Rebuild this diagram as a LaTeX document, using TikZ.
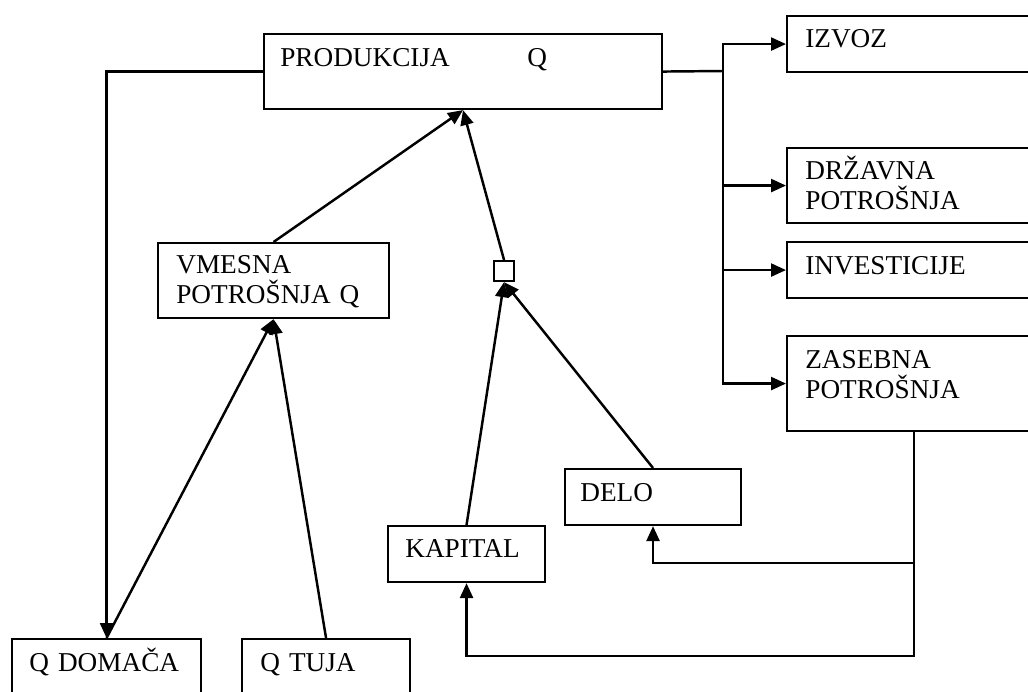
\documentclass[tikz,border=0pt]{standalone}
\usepackage{fontspec}
\setmainfont{Liberation Serif}
\usetikzlibrary{positioning,arrows.meta}

\begin{document}
\begin{tikzpicture}[x=0.02cm, y=-0.02cm,
        box/.style={draw, line width=1.2pt, anchor=north west, inner sep=0pt},
        lbl/.style={anchor=base west, inner sep=0pt, align=left, text width=5cm,
            font=\fontsize{15.5}{17.5}\selectfont},
        arr/.style={line width=1.4pt, -{Triangle[length=3mm, width=2.6mm]}},
        ln/.style={line width=1.4pt}]
        \useasboundingbox (0,0) rectangle (1028,691);
        \clip (0,0) rectangle (1028,691);
        \node[box, minimum width=7.96cm, minimum height=1.5cm] (prod) at (263,33) {};
        \node[box, minimum width=5.08cm, minimum height=1.12cm] (izvoz) at (786,15) {};
        \node[box, minimum width=5.08cm, minimum height=1.5cm] (drzavna) at (786,147) {};
        \node[box, minimum width=5.08cm, minimum height=1.12cm] (invest) at (786,241) {};
        \node[box, minimum width=5.08cm, minimum height=1.9cm] (zasebna) at (786,335) {};
        \node[box, minimum width=4.62cm, minimum height=1.5cm] (vmesna) at (157,242) {};
        \node[box, minimum width=0.4cm, minimum height=0.4cm] (kvad) at (493,260) {};
        \node[box, minimum width=3.52cm, minimum height=1.12cm] (delo) at (564,468) {};
        \node[box, minimum width=3.14cm, minimum height=1.12cm] (kapital) at (387,525) {};
        \node[box, minimum width=3.78cm, minimum height=1.3cm] (domaca) at (11,638) {};
        \node[box, minimum width=3.36cm, minimum height=1.3cm] (tuja) at (241,638) {};
        \node[lbl] (prodtxt) at (280,66) {\makebox[4.94cm][l]{PRODUKCIJA}Q};
        \node[lbl] (izvoztxt) at (805,47) {IZVOZ};
        \node[lbl] (drzavnatxt) at (805,179) {DRŽAVNA\\POTROŠNJA};
        \node[lbl] (investtxt) at (805,274) {INVESTICIJE};
        \node[lbl] (zasebnatxt) at (805,368) {ZASEBNA\\POTROŠNJA};
        \node[lbl] (vmesnatxt) at (176,273) {VMESNA\\POTROŠNJA Q};
        \node[lbl] (delotxt) at (580,501) {DELO};
        \node[lbl] (kapitaltxt) at (405,557) {KAPITAL};
        \node[lbl] (domacatxt) at (29,671) {Q DOMAČA};
        \node[lbl] (tujatxt) at (260,671) {Q TUJA};
        \coordinate (bus) at (723,71);
        \coordinate (ret) at (zasebna.south |- 0,656);
        \coordinate (split) at (zasebna.south |- 0,563);
        \path (vmesna.north) edge[arr] (prod.south);
        \path (kvad.north) edge[arr] (prod.south);
        \path (domaca.north) edge[arr] (vmesna.south);
        \path (tuja.north) edge[arr] (vmesna.south);
        \path (kapital.north) edge[arr] (kvad.south);
        \path (delo.north) edge[arr] (kvad.south);
        \draw[arr] (prod.west) -| (domaca.north);
        \draw[ln] (prod.east) -- (bus);
        \draw[arr] (bus) |- (izvoz.west);
        \draw[arr] (bus) |- (drzavna.west);
        \draw[arr] (bus) |- (invest.west);
        \draw[arr] (bus) |- (zasebna.west);
        \draw[arr] (zasebna.south) -- (ret) -| (kapital.south);
        \draw[arr] (split) -| (delo.south);
    \end{tikzpicture}
\end{document}
